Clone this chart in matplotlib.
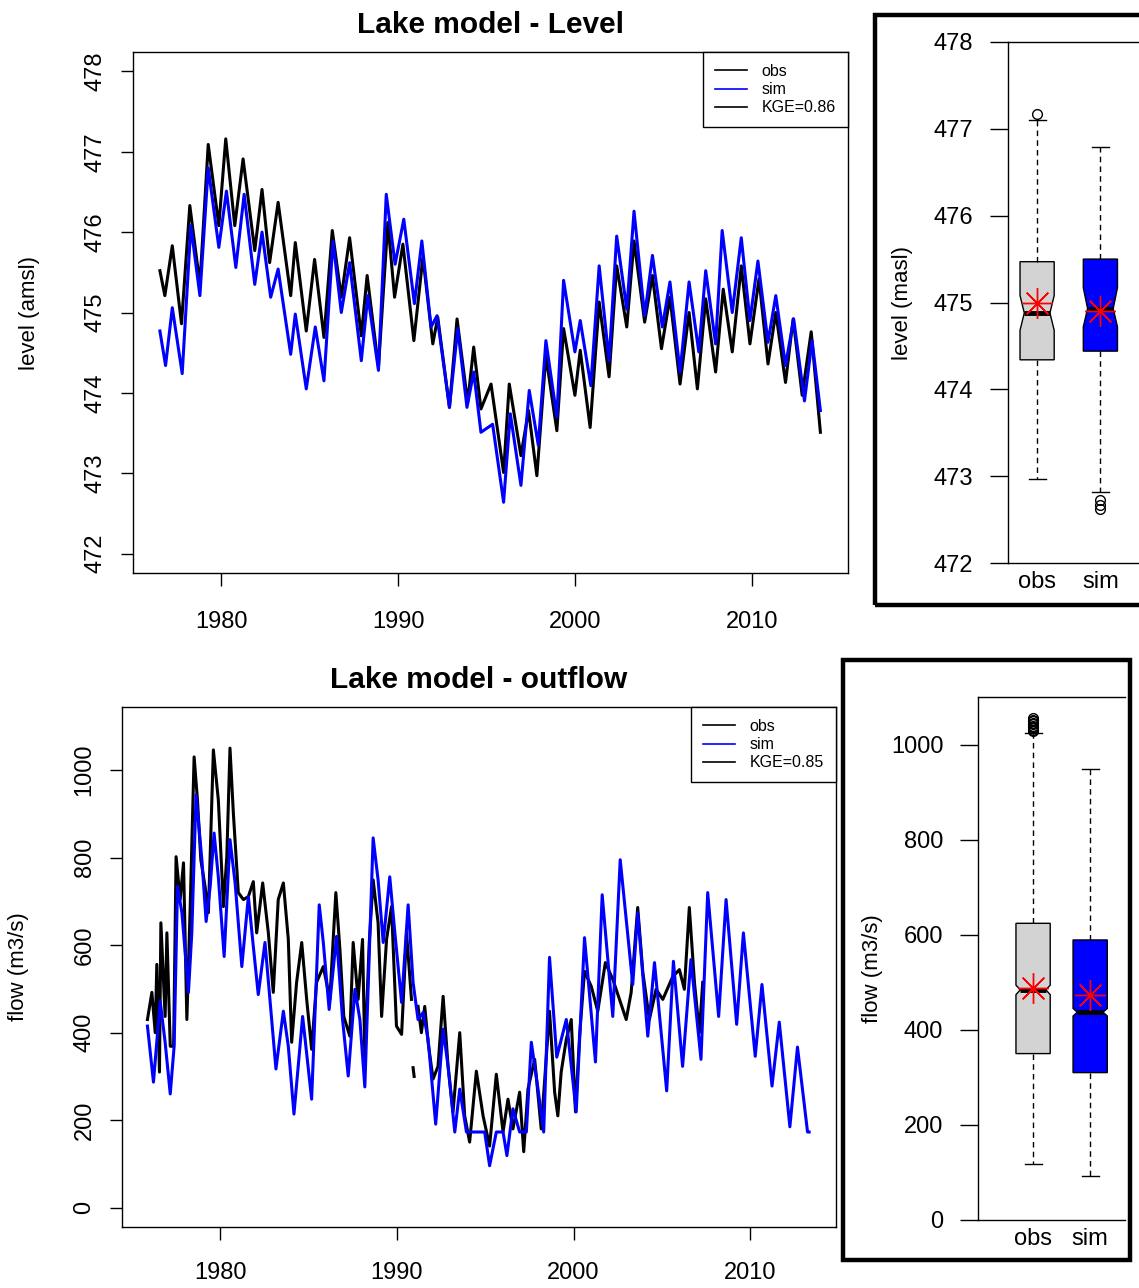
import numpy as np
import matplotlib.pyplot as plt
from matplotlib.lines import Line2D
from matplotlib.patches import Rectangle

plt.rcParams['font.family'] = ['Liberation Sans', 'DejaVu Sans']

lvl_obs_t = [1976.52, 1976.8, 1977.22, 1977.74, 1978.21, 1978.78, 1979.25, 1979.85, 1980.24, 1980.75,
             1981.22, 1981.88, 1982.29, 1982.72, 1983.2, 1983.91, 1984.17, 1984.79, 1985.26, 1985.79,
             1986.26, 1986.77, 1987.24, 1987.9, 1988.23, 1988.87, 1989.4, 1989.78, 1990.25, 1990.87,
             1991.38, 1991.94, 1992.22, 1992.88, 1993.31, 1993.91, 1994.25, 1994.66, 1995.23, 1995.94,
             1996.26, 1996.92, 1997.35, 1997.82, 1998.33, 1998.95, 1999.33, 1999.97, 2000.27, 2000.83,
             2001.34, 2001.9, 2002.33, 2002.9, 2003.31, 2003.91, 2004.35, 2004.86, 2005.34, 2005.91,
             2006.42, 2006.89, 2007.36, 2007.92, 2008.35, 2008.86, 2009.37, 2009.86, 2010.37, 2010.88,
             2011.32, 2011.87, 2012.3, 2012.81, 2013.32, 2013.84]
lvl_obs = [475.52, 475.21, 475.83, 474.86, 476.33, 475.35, 477.09, 476.08, 477.16, 476.08,
           476.91, 475.77, 476.53, 475.62, 476.37, 475.21, 475.87, 474.77, 475.66, 474.69,
           476.02, 475.19, 475.93, 474.71, 475.46, 474.32, 476.12, 475.19, 475.85, 474.65,
           475.69, 474.61, 474.94, 473.82, 474.92, 473.88, 474.57, 473.8, 474.11, 473.01,
           474.11, 473.22, 473.78, 472.97, 474.46, 473.53, 474.8, 473.97, 474.53, 473.57,
           475.13, 474.2, 475.58, 474.82, 475.89, 474.88, 475.46, 474.55, 475.19, 474.11,
           475.0, 474.05, 475.17, 474.26, 475.29, 474.51, 475.58, 474.61, 475.42, 474.36,
           475.0, 474.13, 474.92, 473.97, 474.76, 473.51]

lvl_sim_t = [1976.52, 1976.84, 1977.22, 1977.78, 1978.27, 1978.78, 1979.25, 1979.85, 1980.28, 1980.81,
             1981.28, 1981.88, 1982.29, 1982.78, 1983.2, 1983.91, 1984.17, 1984.79, 1985.3, 1985.79,
             1986.3, 1986.77, 1987.24, 1987.9, 1988.27, 1988.87, 1989.31, 1989.81, 1990.3, 1990.9,
             1991.32, 1991.84, 1992.18, 1992.88, 1993.35, 1993.87, 1994.25, 1994.66, 1995.32, 1995.94,
             1996.32, 1996.92, 1997.39, 1997.9, 1998.33, 1998.95, 1999.33, 1999.97, 2000.27, 2000.87,
             2001.34, 2001.9, 2002.33, 2002.9, 2003.31, 2003.91, 2004.35, 2004.91, 2005.34, 2005.91,
             2006.42, 2006.97, 2007.36, 2007.92, 2008.29, 2008.86, 2009.37, 2009.86, 2010.31, 2010.88,
             2011.32, 2011.87, 2012.33, 2012.94, 2013.37, 2013.84]
lvl_sim = [474.77, 474.34, 475.06, 474.24, 476.08, 475.21, 476.8, 475.81, 476.51, 475.56,
           476.47, 475.35, 476.0, 475.19, 475.54, 474.48, 474.98, 474.05, 474.82, 474.15,
           475.89, 475.0, 475.62, 474.4, 475.21, 474.28, 476.47, 475.6, 476.16, 475.11,
           475.89, 474.82, 474.96, 473.82, 474.8, 473.82, 474.26, 473.51, 473.61, 472.64,
           473.74, 472.85, 474.03, 473.35, 474.65, 473.7, 475.4, 474.51, 474.9, 474.09,
           475.58, 474.4, 475.95, 475.04, 476.26, 474.96, 475.71, 474.82, 475.38, 474.26,
           475.38, 474.51, 475.52, 474.61, 476.02, 475.0, 475.93, 474.9, 475.64, 474.63,
           475.21, 474.34, 474.92, 473.9, 474.65, 473.78]

# Lake outflow (m3/s); NaN marks gaps in the observed record
flow_obs_t = [1975.89, 1976.14, 1976.33, 1976.42, 1976.57, 1976.65, 1976.89, 1976.99, 1977.18, 1977.37,
              1977.51, 1977.74, 1977.93, 1978.12, 1978.31, 1978.53, 1978.72, 1978.91, 1979.15, 1979.34,
              1979.62, 1979.9, 1980.19, 1980.38, 1980.56, 1980.75, 1981.03, 1981.32, 1981.6, 1981.88,
              1982.07, 1982.41, 1982.73, 1983.01, 1983.29, 1983.58, 1983.86, 1984.05, 1984.33, 1984.62,
              1984.9, 1985.18, 1985.46, 1985.84, 1986.21, 1986.55, 1986.78, 1987.0, 1987.34, 1987.53,
              1987.81, 1988.06, 1988.19, 1988.44, 1988.66, 1988.94, 1989.14, 1989.42, 1989.7, 1989.98,
              1990.27, 1990.55, 1990.83, 1990.88, 1990.92, 1990.98, 1991.05, 1991.2, 1991.39, 1991.58,
              1991.77, 1992.05, 1992.33, 1992.62, 1992.9, 1993.18, 1993.56, 1993.84, 1994.12, 1994.5,
              1994.88, 1995.25, 1995.63, 1996.01, 1996.29, 1996.57, 1996.95, 1997.18, 1997.42, 1997.8,
              1998.17, 1998.64, 1998.93, 1999.11, 1999.3, 1999.59, 1999.87, 2000.11, 2000.34, 2000.62,
              2001.0, 2001.37, 2001.8, 2002.22, 2002.98, 2003.26, 2003.63, 2003.92, 2004.29, 2004.67,
              2005.05, 2005.61, 2005.99, 2006.27, 2006.55, 2006.84, 2007.12, 2007.31]
flow_obs = [430, 492, 400, 556, 310, 651, 437, 628, 369, 369,
            802, 704, 788, 430, 688, 1030, 932, 795, 734, 674,
            1046, 932, 688, 802, 1050, 902, 720, 704, 711, 745,
            628, 742, 628, 492, 704, 742, 613, 378, 515, 606,
            476, 362, 515, 551, 476, 720, 590, 437, 392, 606,
            476, 613, 346, 606, 749, 651, 437, 613, 688, 415,
            396, 628, 476, np.nan, 320, 300, np.nan, 460, 400, 460,
            378, 294, 323, 483, 323, 219, 400, 210, 150, 312,
            210, 141, 305, 173, 248, 180, 264, 128, 271, 339,
            180, 449, 264, 210, 310, 385, 430, 219, 392, 540,
            506, 449, 560, 522, 430, 492, 686, 538, 430, 499,
            476, 528, 544, 499, 686, 515, 400, 515]

flow_sim_t = [1975.89, 1976.23, 1976.61, 1976.89, 1977.18, 1977.4, 1977.59, 1977.84, 1978.21, 1978.4,
              1978.64, 1978.97, 1979.21, 1979.44, 1979.66, 1979.9, 1980.23, 1980.56, 1980.85, 1981.23,
              1981.6, 1981.88, 1982.16, 1982.54, 1982.82, 1983.16, 1983.58, 1983.86, 1984.18, 1984.67,
              1985.18, 1985.61, 1985.84, 1986.17, 1986.59, 1986.93, 1987.25, 1987.63, 1987.91, 1988.19,
              1988.66, 1988.94, 1989.23, 1989.6, 1989.89, 1990.27, 1990.64, 1990.92, 1991.2, 1991.49,
              1991.77, 1992.2, 1992.62, 1992.9, 1993.28, 1993.56, 1993.94, 1994.31, 1994.97, 1995.25,
              1995.63, 1996.01, 1996.23, 1996.57, 1996.95, 1997.33, 1997.61, 1997.99, 1998.31, 1998.64,
              1999.05, 1999.59, 2000.15, 2000.62, 2001.24, 2001.62, 2002.22, 2002.64, 2003.35, 2003.63,
              2004.2, 2004.58, 2005.27, 2005.65, 2006.17, 2006.64, 2007.21, 2007.59, 2008.21, 2008.63,
              2009.23, 2009.61, 2010.28, 2010.66, 2011.23, 2011.64, 2012.24, 2012.67, 2013.24, 2013.33]
flow_sim = [415, 287, 472, 378, 260, 369, 734, 674, 492, 628,
            943, 795, 654, 734, 856, 756, 574, 841, 742, 551,
            711, 597, 487, 606, 476, 317, 449, 369, 214, 437,
            248, 692, 606, 453, 620, 430, 301, 499, 430, 276,
            845, 749, 606, 756, 628, 469, 692, 515, 430, 446,
            385, 191, 408, 323, 173, 271, 173, 173, 173, 96,
            173, 173, 119, 226, 173, 173, 378, 271, 173, 572,
            344, 430, 219, 617, 333, 715, 437, 795, 510, 674,
            392, 560, 267, 563, 323, 567, 339, 720, 437, 704,
            419, 628, 346, 510, 278, 424, 185, 367, 173, 173]

# Boxplot statistics
box_labels = ['obs', 'sim']
lvl_med = [474.88, 474.93]
lvl_q1 = [474.34, 474.44]
lvl_q3 = [475.47, 475.50]
lvl_wlo = [472.97, 472.82]
lvl_whi = [477.10, 476.79]
lvl_mean = [475.00, 474.90]
lvl_cilo = [474.68, 474.72]
lvl_cihi = [475.08, 475.17]
lvl_fliers = [[477.17], [472.72, 472.67, 472.62]]

flow_med = [484, 437]
flow_q1 = [350, 310]
flow_q3 = [624, 589]
flow_wlo = [117, 92]
flow_whi = [1025, 949]
flow_mean = [487, 474]
flow_cilo = [474, 429]
flow_cihi = [494, 445]
flow_fliers = [[1028, 1031, 1034, 1037, 1040, 1043, 1046, 1049, 1052, 1055], []]

kge_lvl = 0.86
kge_flow = 0.85

W, H = 1139, 1288
fig = plt.figure(figsize=(W / 100, H / 100), dpi=100)


def fax(left, top, right, bottom):
    return fig.add_axes([left / W, 1 - bottom / H, (right - left) / W, (bottom - top) / H])


def ts_panel(ax, t_obs, obs, t_sim, sim, title, ylabel, ylim, yticks, kge, xpad):
    ax.plot(t_obs, obs, color='black', lw=2.2)
    ax.plot(t_sim, sim, color='blue', lw=2.2)
    span = ylim[1] - ylim[0]
    ax.set_ylim(ylim[0] - 0.04 * span, ylim[1] + 0.04 * span)
    ax.set_yticks(yticks)
    ax.set_xticks([1980, 1990, 2000, 2010])
    ax.tick_params(axis='both', direction='out', length=9, width=1, labelsize=17)
    ax.tick_params(axis='x', pad=xpad)
    ax.tick_params(axis='y', pad=10)
    for lab in ax.get_yticklabels():
        lab.set_rotation(90)
        lab.set_va('center')
    ax.set_title(title, fontsize=21.5, fontweight='bold', pad=14)
    ax.set_ylabel(ylabel, fontsize=16)
    ax.yaxis.set_label_coords(-0.13, 0.5)
    handles = [Line2D([], [], color='black', lw=1.2),
               Line2D([], [], color='blue', lw=1.2),
               Line2D([], [], color='black', lw=1.2)]
    leg = ax.legend(handles, ['obs', 'sim', 'KGE=%.2f' % kge], loc='upper right',
                    borderaxespad=0, fancybox=False, framealpha=1, edgecolor='black',
                    fontsize=11.5, handlelength=2.0, labelspacing=0.2, handletextpad=0.9,
                    borderpad=0.75)
    leg.get_frame().set_linewidth(1)
    for s in ax.spines.values():
        s.set_linewidth(1)


def box_panel(ax, med, q1, q3, wlo, whi, mean, cilo, cihi, fliers, ylabel, ylim, yticks, widths):
    stats = []
    for i in range(2):
        stats.append(dict(label=box_labels[i], med=med[i], q1=q1[i], q3=q3[i],
                          whislo=wlo[i], whishi=whi[i], mean=mean[i],
                          cilo=cilo[i], cihi=cihi[i], fliers=fliers[i]))
    bp = ax.bxp(stats, positions=[1, 2], widths=widths, patch_artist=True, shownotches=True,
                showmeans=True,
                medianprops=dict(color='black', lw=3.5),
                whiskerprops=dict(color='black', lw=1, linestyle=(0, (4, 3))),
                capprops=dict(color='black', lw=1),
                boxprops=dict(edgecolor='black', lw=1),
                flierprops=dict(marker='o', markerfacecolor='none', markeredgecolor='black',
                                markersize=7, markeredgewidth=1),
                meanprops=dict(marker=(8, 2, 0), markeredgecolor='red', markerfacecolor='red',
                               markersize=22, markeredgewidth=1))
    for pos, patch, col, mline in zip([1, 2], bp['boxes'], ['#D3D3D3', '#0000FF'], bp['medians']):
        patch.set_facecolor(col)
        # R-style notch: narrow to ~75% of the box width at the median
        verts = patch.get_path().vertices
        half = widths / 2
        verts[3, 0] = pos + 0.75 * half
        verts[8, 0] = pos - 0.75 * half
        mline.set_xdata([pos - 0.75 * half, pos + 0.75 * half])
    ax.set_ylim(*ylim)
    ax.set_yticks(yticks)
    ax.spines['right'].set_visible(False)
    for s in ax.spines.values():
        s.set_linewidth(1)
    ax.tick_params(axis='y', direction='out', length=13, width=1, labelsize=17, pad=12)
    ax.tick_params(axis='x', length=0, labelsize=17, pad=6)
    ax.set_ylabel(ylabel, fontsize=16)


# --- top: lake level time series
ax1 = fax(133, 52, 848, 573)
ts_panel(ax1, lvl_obs_t, lvl_obs, lvl_sim_t, lvl_sim, 'Lake model - Level', 'level (amsl)',
         (472, 478), [472, 473, 474, 475, 476, 477, 478], kge_lvl, 18)
ax1.set_xlim(1975.0, 2015.4)

# --- bottom: outflow time series
ax2 = fax(122, 707, 836, 1227)
ts_panel(ax2, flow_obs_t, flow_obs, flow_sim_t, flow_sim, 'Lake model - outflow', 'flow (m3/s)',
         (0, 1100), [0, 200, 400, 600, 800, 1000], kge_flow, 16)
ax2.set_xlim(1974.45, 2014.85)

# --- top right: level boxplot
ax3 = fax(1008, 42, 1170, 563)
box_panel(ax3, lvl_med, lvl_q1, lvl_q3, lvl_wlo, lvl_whi, lvl_mean, lvl_cilo, lvl_cihi,
          lvl_fliers, 'level (masl)', (472, 478), [472, 473, 474, 475, 476, 477, 478], 0.54)
ax3.set_xlim(0.54, 3.1)
ax3.yaxis.set_label_coords(-0.585, 0.5)

# --- bottom right: flow boxplot
ax4 = fax(978, 697, 1125, 1220)
box_panel(ax4, flow_med, flow_q1, flow_q3, flow_wlo, flow_whi, flow_mean, flow_cilo, flow_cihi,
          flow_fliers, 'flow (m3/s)', (0, 1100), [0, 200, 400, 600, 800, 1000], 0.6)
ax4.set_xlim(0.035, 2.61)
ax4.yaxis.set_label_coords(-0.645, 0.48)

# frames around the boxplot panels
fig.add_artist(Rectangle((875 / W, 1 - 605 / H), 320 / W, 590 / H, transform=fig.transFigure,
                         fill=False, edgecolor='black', lw=3.2))
fig.add_artist(Rectangle((843 / W, 1 - 1260 / H), 287 / W, 600 / H, transform=fig.transFigure,
                         fill=False, edgecolor='black', lw=3.2))

fig.savefig('out.png', dpi=100)
